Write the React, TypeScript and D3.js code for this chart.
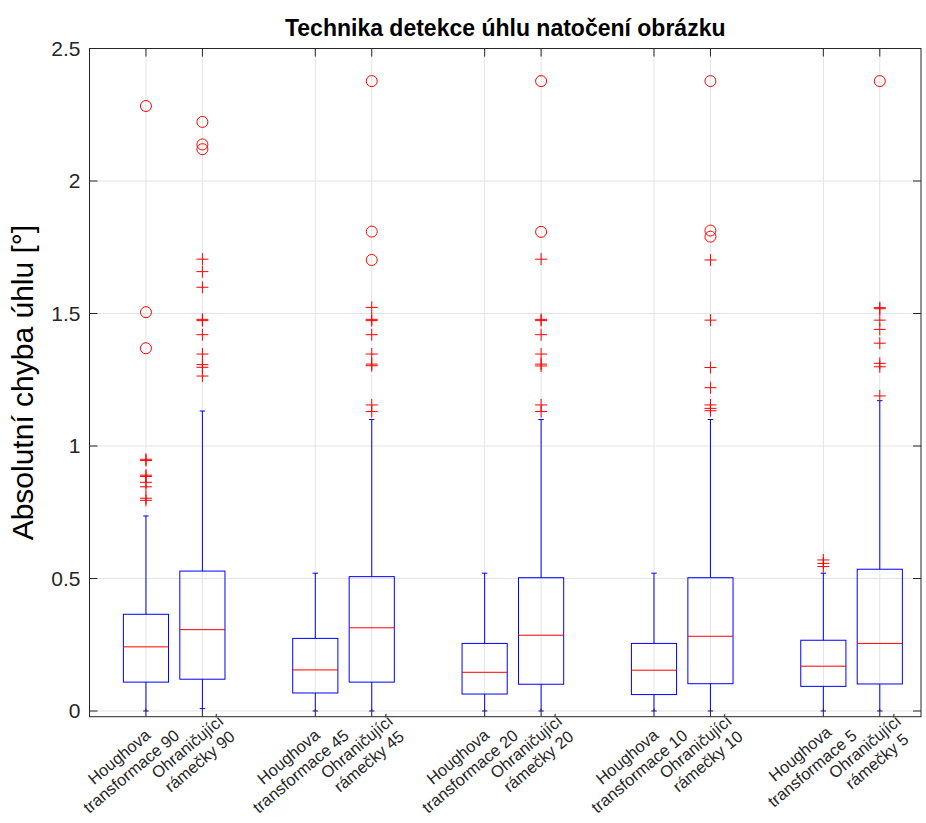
import React, { useEffect, useRef } from "react";
import * as d3 from "d3";

// Category labels (two lines each) and their x positions
const labels: string[][] = [
  ["Houghova", "transformace 90"],
  ["Ohraničující", "rámečky 90"],
  ["Houghova", "transformace 45"],
  ["Ohraničující", "rámečky 45"],
  ["Houghova", "transformace 20"],
  ["Ohraničující", "rámečky 20"],
  ["Houghova", "transformace 10"],
  ["Ohraničující", "rámečky 10"],
  ["Houghova", "transformace 5"],
  ["Ohraničující", "rámečky 5"],
];
const positions = [1, 2, 4, 5, 7, 8, 10, 11, 13, 14];

// Box statistics per category
const q1 = [0.109, 0.12, 0.068, 0.109, 0.064, 0.101, 0.062, 0.103, 0.093, 0.102];
const median = [0.242, 0.307, 0.155, 0.314, 0.146, 0.286, 0.154, 0.282, 0.169, 0.255];
const q3 = [0.365, 0.528, 0.274, 0.507, 0.255, 0.503, 0.255, 0.503, 0.267, 0.535];
const whiskerLow = [0.0, 0.009, 0.0, 0.0, 0.0, 0.0, 0.0, 0.0, 0.0, 0.0];
const whiskerHigh = [0.736, 1.132, 0.52, 1.1, 0.52, 1.1, 0.52, 1.1, 0.52, 1.171];

// Outliers (+) and extreme outliers (o)
const outliers: number[][] = [
  [0.95, 0.945, 0.89, 0.885, 0.863, 0.846, 0.803, 0.795],
  [1.705, 1.658, 1.599, 1.478, 1.473, 1.42, 1.347, 1.307, 1.297, 1.264],
  [],
  [1.523, 1.478, 1.473, 1.42, 1.347, 1.309, 1.303, 1.155, 1.13],
  [],
  [1.705, 1.478, 1.473, 1.42, 1.347, 1.309, 1.302, 1.155, 1.13],
  [],
  [1.702, 1.475, 1.296, 1.22, 1.155, 1.142, 1.133],
  [0.57, 0.557, 0.545],
  [1.522, 1.518, 1.475, 1.44, 1.388, 1.312, 1.299, 1.189],
];
const extremes: number[][] = [
  [1.369, 1.505, 2.283],
  [2.12, 2.138, 2.223],
  [],
  [1.702, 1.809, 2.377],
  [],
  [1.808, 2.377],
  [],
  [1.79, 1.813, 2.377],
  [],
  [2.377],
];

const yTicks = [0, 0.5, 1, 1.5, 2, 2.5];

const title = "Technika detekce úhlu natočení obrázku";
const yLabel = "Absolutní chyba úhlu [°]";

const W = 926;
const H = 823;
const left = 89.5;
const right = 921;
const top = 48.5;
const bottom = 716.7;
const FONT = "'Liberation Sans', Arial, Helvetica, sans-serif";

export default function App() {
  const ref = useRef<SVGSVGElement>(null);

  useEffect(() => {
    const svg = d3.select(ref.current);
    svg.selectAll("*").remove();

    const x = d3.scaleLinear().domain([0, 14.73]).range([left, right]);
    const y = d3.scaleLinear().domain([-0.0215, 2.5]).range([bottom, top]);
    const unit = x(1) - x(0);
    const half = unit * 0.4;
    const cap = 2.7;

    const g = svg.append("g");

    // grid
    g.selectAll("line.gy")
      .data(yTicks)
      .join("line")
      .attr("x1", left)
      .attr("x2", right)
      .attr("y1", (d) => y(d))
      .attr("y2", (d) => y(d))
      .attr("stroke", "#e3e3e3")
      .attr("stroke-width", 1);
    g.selectAll("line.gx")
      .data(positions)
      .join("line")
      .attr("x1", (d) => x(d))
      .attr("x2", (d) => x(d))
      .attr("y1", top)
      .attr("y2", bottom)
      .attr("stroke", "#e3e3e3")
      .attr("stroke-width", 1);

    // boxes
    const boxes = g
      .selectAll("g.box")
      .data(positions.map((p, i) => ({ p, i })))
      .join("g");

    boxes.each(function ({ p, i }) {
      const b = d3.select(this);
      const cx = x(p);
      // whiskers
      b.append("line")
        .attr("x1", cx).attr("x2", cx)
        .attr("y1", y(q3[i])).attr("y2", y(whiskerHigh[i]))
        .attr("stroke", "#0000ff");
      b.append("line")
        .attr("x1", cx).attr("x2", cx)
        .attr("y1", y(q1[i])).attr("y2", y(whiskerLow[i]))
        .attr("stroke", "#0000ff");
      [whiskerHigh[i], whiskerLow[i]].forEach((v) => {
        b.append("line")
          .attr("x1", cx - cap).attr("x2", cx + cap)
          .attr("y1", y(v)).attr("y2", y(v))
          .attr("stroke", "#0000ff");
      });
      // box
      b.append("rect")
        .attr("x", cx - half)
        .attr("width", half * 2)
        .attr("y", y(q3[i]))
        .attr("height", y(q1[i]) - y(q3[i]))
        .attr("fill", "none")
        .attr("stroke", "#0000ff");
      // median
      b.append("line")
        .attr("x1", cx - half).attr("x2", cx + half)
        .attr("y1", y(median[i])).attr("y2", y(median[i]))
        .attr("stroke", "#ff0000");
      // outliers
      outliers[i].forEach((v) => {
        const yy = y(v);
        b.append("path")
          .attr("d", `M${cx - 6},${yy}H${cx + 6}M${cx},${yy - 6}V${yy + 6}`)
          .attr("stroke", "#ff0000")
          .attr("fill", "none");
      });
      extremes[i].forEach((v) => {
        b.append("circle")
          .attr("cx", cx)
          .attr("cy", y(v))
          .attr("r", 5.5)
          .attr("stroke", "#ff0000")
          .attr("fill", "none");
      });
    });

    // axes frame
    const axisColor = "#262626";
    g.append("rect")
      .attr("x", left).attr("y", top)
      .attr("width", right - left).attr("height", bottom - top)
      .attr("fill", "none").attr("stroke", axisColor).attr("stroke-width", 1);

    const tl = 8;
    yTicks.forEach((v) => {
      g.append("line").attr("x1", left).attr("x2", left + tl)
        .attr("y1", y(v)).attr("y2", y(v)).attr("stroke", axisColor);
      g.append("line").attr("x1", right).attr("x2", right - tl)
        .attr("y1", y(v)).attr("y2", y(v)).attr("stroke", axisColor);
      g.append("text")
        .attr("x", left - 9)
        .attr("y", y(v))
        .attr("dy", "0.35em")
        .attr("text-anchor", "end")
        .attr("font-family", FONT)
        .attr("font-size", 21)
        .attr("fill", axisColor)
        .text(String(v));
    });
    positions.forEach((p) => {
      g.append("line").attr("x1", x(p)).attr("x2", x(p))
        .attr("y1", bottom).attr("y2", bottom - tl).attr("stroke", axisColor);
      g.append("line").attr("x1", x(p)).attr("x2", x(p))
        .attr("y1", top).attr("y2", top + tl).attr("stroke", axisColor);
    });

    // rotated two-line category labels
    const angle = -40;
    const fs = 16.5;
    const lineGap = 19;
    positions.forEach((p, i) => {
      const lg = g.append("g")
        .attr("transform", `translate(${x(p) + 14},${bottom - 4}) rotate(${angle})`);
      const texts = labels[i].map((s, k) =>
        lg.append("text")
          .attr("font-family", FONT)
          .attr("font-size", fs)
          .attr("fill", axisColor)
          .attr("text-anchor", "middle")
          .attr("y", fs * 0.8 + k * lineGap)
          .text(s)
      );
      const wMax = d3.max(texts, (t) => (t.node() as SVGTextElement).getComputedTextLength()) || 0;
      texts.forEach((t) => t.attr("x", -wMax / 2));
    });

    // title
    svg.append("text")
      .attr("x", (left + right) / 2)
      .attr("y", 36)
      .attr("text-anchor", "middle")
      .attr("font-family", FONT)
      .attr("font-size", 23)
      .attr("font-weight", "bold")
      .attr("fill", "#000")
      .text(title);

    // y label
    svg.append("text")
      .attr("transform", `translate(33,${(top + bottom) / 2}) rotate(-90)`)
      .attr("text-anchor", "middle")
      .attr("font-family", FONT)
      .attr("font-size", 30)
      .attr("fill", "#000")
      .text(yLabel);
  }, []);

  return (
    <svg
      ref={ref}
      width={W}
      height={H}
      style={{ position: "absolute", left: 0, top: 0, background: "#fff" }}
    />
  );
}
